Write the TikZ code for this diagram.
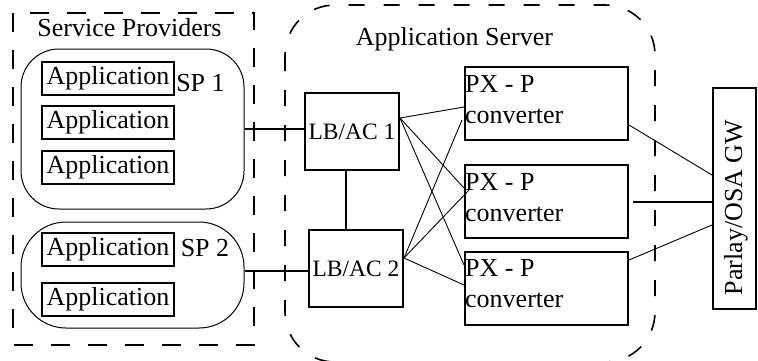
\documentclass[tikz, border = 0pt]{standalone}
\usepackage{fontspec}
\setmainfont{Liberation Serif}
\usepackage{tikz}
\usetikzlibrary{positioning}
\tikzset{box/.style = {draw, line width = 2, inner sep = 0}}
\tikzset{app/.style = {box, minimum width = 132, minimum height = 33}}
\tikzset{lbac/.style = {box, minimum width = 94, minimum height = 77, font = \fontsize{23.5}{28}\selectfont}}
\tikzset{pxc/.style = {box, minimum width = 163, minimum height = 73}}
\tikzset{pxtxt/.style = {anchor = north west, align = left, inner xsep = 1, inner ysep = 9}}
\tikzset{spgroup/.style = {draw, line width = 1, inner sep = 0}}
\tikzset{wire/.style = {line width = 0.9}}
\tikzset{bus/.style = {line width = 2}}

\begin{document}
\begin{tikzpicture}[x = 1pt, y = -1pt, font = \fontsize{26}{31}\selectfont]
    \useasboundingbox (0, 0) rectangle (758, 360);

    \draw [line width = 2, dash pattern = on 19 off 18] (13, 13) rectangle (254, 345);
    \node [anchor = base] (spt) at (129.5, 36) {Service Providers};

    \begin{scope}
        \clip (0, 0) rectangle (758, 360);
        \draw [line width = 1.6, dash pattern = on 16 off 19, rounded corners = 50] (285, 5) rectangle (655, 362);
    \end{scope}
    \node [anchor = base] (ast) at (454.5, 45) {Application Server};

    \node [spgroup, minimum width = 223, minimum height = 160, rounded corners = 38] (sp1) at (132.5, 129) {};
    \node [spgroup, minimum width = 223, minimum height = 106, rounded corners = 45] (sp2) at (132.5, 275) {};
    \foreach \i/\y in {1/78.5, 2/122, 3/167}
        \node [app] (a1\i) at (108, \y) {Application};
    \foreach \i/\y in {1/249.5, 2/299.5}
        \node [app] (a2\i) at (108, \y) {Application};
    \node [anchor = base] (sp1t) at (200.5, 91) {SP 1};
    \node [anchor = base] (sp2t) at (205, 256) {SP 2};

    \node [lbac] (lb1) at (352, 131.5) {LB/AC 1};
    \node [lbac] (lb2) at (356, 268.5) {LB/AC 2};

    \foreach \i/\y in {1/103.5, 2/201.5, 3/288} {
        \node [pxc] (px\i) at (546.5, \y) {};
        \node [pxtxt] (pxt\i) at (px\i.north west) {PX - P\\converter};
    }

    \node [box, minimum width = 43, minimum height = 221] (gw) at (734.5, 198.5) {};
    \node [rotate = 90] (gwt) at (736, 207.5) {Parlay/OSA GW};

    \draw [bus] (sp1.east) -- (sp1.east -| lb1.west);
    \draw [bus] ([yshift = 4]sp2.east) -- ([yshift = 4]sp2.east -| lb2.west);
    \draw [bus] ([xshift = -6]lb1.south) -- ([xshift = -6]lb1.south |- lb2.north);

    \coordinate (lb1o) at ([yshift = 13.5]lb1.east);
    \coordinate (lb2o) at ([yshift = 10.5]lb2.east);
    \foreach \p/\s in {px1/-3.5, px2/13.5, px3/23}
        \draw [wire] (lb1o) -- ([yshift = \s]\p.west);
    \draw [wire] (lb2o) -- ([yshift = -16.5, xshift = -2]px1.west);
    \draw [wire] (lb2o) -- ([yshift = 11.5, xshift = 5]px2.west);
    \draw [wire] (lb2o) -- ([yshift = 3]px3.west);

    \draw [wire] ([yshift = -21.5]px1.east) -- ([yshift = 23.5]gw.west);
    \draw [bus] ([xshift = 4]px2.east) -- (px2.east -| gw.west);
    \draw [wire] ([yshift = 28]px3.east) -- ([yshift = -26.5]gw.west);
\end{tikzpicture}
\end{document}
